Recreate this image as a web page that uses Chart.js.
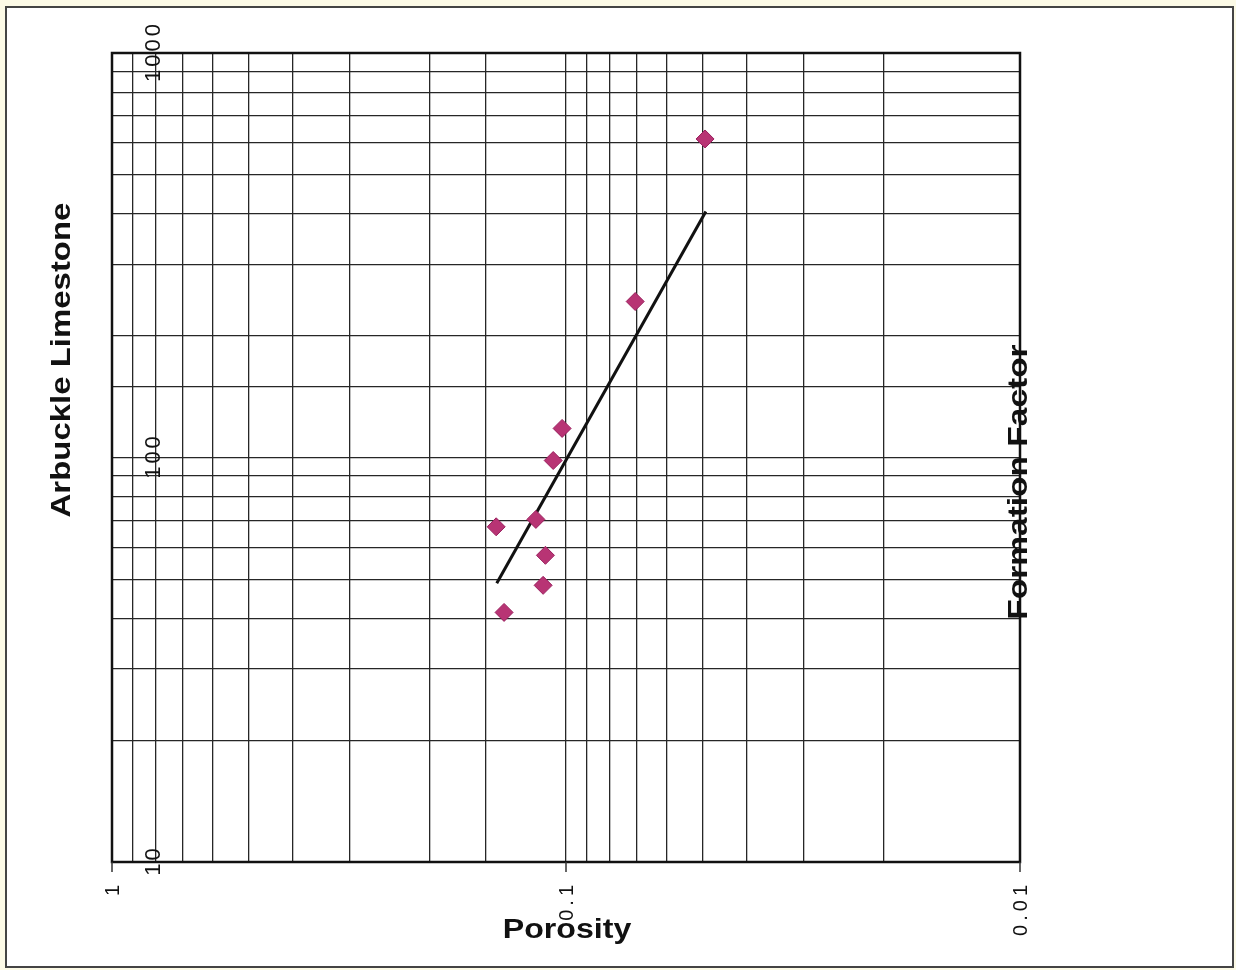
<!DOCTYPE html>
<html>
<head>
<meta charset="utf-8">
<script src="https://cdn.jsdelivr.net/npm/chart.js@4.4.1/dist/chart.umd.min.js"></script>
<style>
  html, body { margin: 0; padding: 0; background: #fcfae6; }
  canvas { display: block; }
</style>
</head>
<body>
<canvas id="chart" width="1236" height="970"></canvas>
<script>
// Core samples: porosity (fraction) vs. formation factor
const porosity        = [0.0494, 0.0704, 0.1020, 0.1067, 0.1165, 0.1425, 0.1110, 0.1123, 0.1369];
const formationFactor = [613,    243,    118,    98.3,   70.3,   67.4,   57.3,   48.3,   41.4];

// Fitted trend line end points
const trendPorosity = [0.1421, 0.0492];
const trendFactor   = [48.9, 405.7];

// Axis labels
const porosityTicks  = [1, 0.1, 0.01];
const porosityLabels = ['1', '0.1', '0.01'];
const factorTicks    = [10, 100, 1000];
const factorLabels   = ['10', '100', '1000'];

const chartTitle = 'Arbuckle Limestone';
const xTitle = 'Porosity';
const yTitle = 'Formation Factor';

const samplePoints = porosity.map((p, i) => ({ x: p, y: formationFactor[i] }));
const trendPoints = trendPorosity.map((p, i) => ({ x: p, y: trendFactor[i] }));

// Draw text one glyph at a time with extra spacing, along the local x axis
function spacedText(ctx, text, startX, extra) {
  let x = startX;
  for (const ch of text) {
    ctx.fillText(ch, x, 0);
    x += ctx.measureText(ch).width + extra;
  }
}
function spacedWidth(ctx, text, extra) {
  let w = 0;
  for (const ch of text) w += ctx.measureText(ch).width;
  return w + extra * (text.length - 1);
}

const decorations = {
  id: 'decorations',
  beforeDraw(chart) {
    const { ctx, width, height } = chart;
    ctx.save();
    ctx.fillStyle = '#fcfae6';
    ctx.fillRect(0, 0, width, height);
    ctx.fillStyle = '#ffffff';
    ctx.fillRect(6, 7, 1227, 960);
    ctx.strokeStyle = '#444444';
    ctx.lineWidth = 2;
    ctx.strokeRect(6, 7, 1227, 960);
    ctx.restore();
  },
  afterDraw(chart) {
    const { ctx, chartArea: a } = chart;
    const xs = chart.scales.x, ys = chart.scales.y;
    ctx.save();

    // plot frame
    ctx.strokeStyle = '#111111';
    ctx.lineWidth = 2.5;
    ctx.strokeRect(a.left, a.top, a.right - a.left, a.bottom - a.top);

    // major tick marks below the porosity axis
    ctx.lineWidth = 1.5;
    ctx.strokeStyle = '#333333';
    porosityTicks.forEach(v => {
      const px = xs.getPixelForValue(v);
      ctx.beginPath();
      ctx.moveTo(px, a.bottom);
      ctx.lineTo(px, a.bottom + 10);
      ctx.stroke();
    });

    ctx.fillStyle = '#111111';
    ctx.textBaseline = 'middle';
    ctx.textAlign = 'left';

    // porosity tick labels, rotated, ending just below the axis
    ctx.font = '20px "Liberation Sans", Arial, sans-serif';
    porosityTicks.forEach((v, i) => {
      const px = xs.getPixelForValue(v);
      const w = spacedWidth(ctx, porosityLabels[i], 4);
      ctx.save();
      ctx.translate(px + 1, a.bottom + 23);
      ctx.rotate(-Math.PI / 2);
      spacedText(ctx, porosityLabels[i], -w, 4);
      ctx.restore();
    });

    // formation factor tick labels, rotated, inside the plot
    ctx.font = '22px "Liberation Sans", Arial, sans-serif';
    factorTicks.forEach((v, i) => {
      const py = ys.getPixelForValue(v);
      const w = spacedWidth(ctx, factorLabels[i], 3);
      ctx.save();
      ctx.translate(a.left + 42, py);
      ctx.rotate(-Math.PI / 2);
      spacedText(ctx, factorLabels[i], -w / 2, 3);
      ctx.restore();
    });

    // titles
    ctx.font = 'bold 27px "Liberation Sans", Arial, sans-serif';
    ctx.textAlign = 'center';

    ctx.save();
    ctx.translate(63, 360);
    ctx.rotate(-Math.PI / 2);
    ctx.scale(1.22, 1);
    ctx.fillText(chartTitle, 0, 0);
    ctx.restore();

    ctx.save();
    ctx.translate(1020, 482);
    ctx.rotate(-Math.PI / 2);
    ctx.scale(1.24, 1);
    ctx.fillText(yTitle, 0, 0);
    ctx.restore();

    ctx.save();
    ctx.translate(567, 931);
    ctx.scale(1.19, 1);
    ctx.fillText(xTitle, 0, 0);
    ctx.restore();

    ctx.restore();
  }
};

new Chart(document.getElementById('chart'), {
  type: 'scatter',
  data: {
    datasets: [
      {
        label: 'Samples',
        data: samplePoints,
        pointStyle: 'rectRot',
        pointRadius: 9,
        pointHoverRadius: 9,
        backgroundColor: '#b83474',
        borderColor: '#9a1f5e',
        borderWidth: 1
      },
      {
        label: 'Trend',
        type: 'line',
        data: trendPoints,
        showLine: true,
        borderColor: '#111111',
        borderWidth: 3,
        pointRadius: 0,
        fill: false
      }
    ]
  },
  options: {
    responsive: false,
    animation: false,
    layout: { padding: { left: 112, top: 53, right: 216, bottom: 108 } },
    plugins: {
      legend: { display: false },
      title: { display: false },
      tooltip: { enabled: false }
    },
    scales: {
      x: {
        type: 'logarithmic',
        reverse: true,
        min: 0.01,
        max: 1,
        ticks: { display: false, autoSkip: false, padding: 0 },
        grid: { color: '#262626', lineWidth: 1.3, drawTicks: false, tickLength: 0 },
        border: { display: false },
        title: { display: false }
      },
      y: {
        type: 'logarithmic',
        min: 10,
        max: 1000,
        ticks: { display: false, autoSkip: false, padding: 0 },
        grid: { color: '#262626', lineWidth: 1.3, drawTicks: false, tickLength: 0 },
        border: { display: false },
        title: { display: false }
      }
    }
  },
  plugins: [decorations]
});
</script>
</body>
</html>
